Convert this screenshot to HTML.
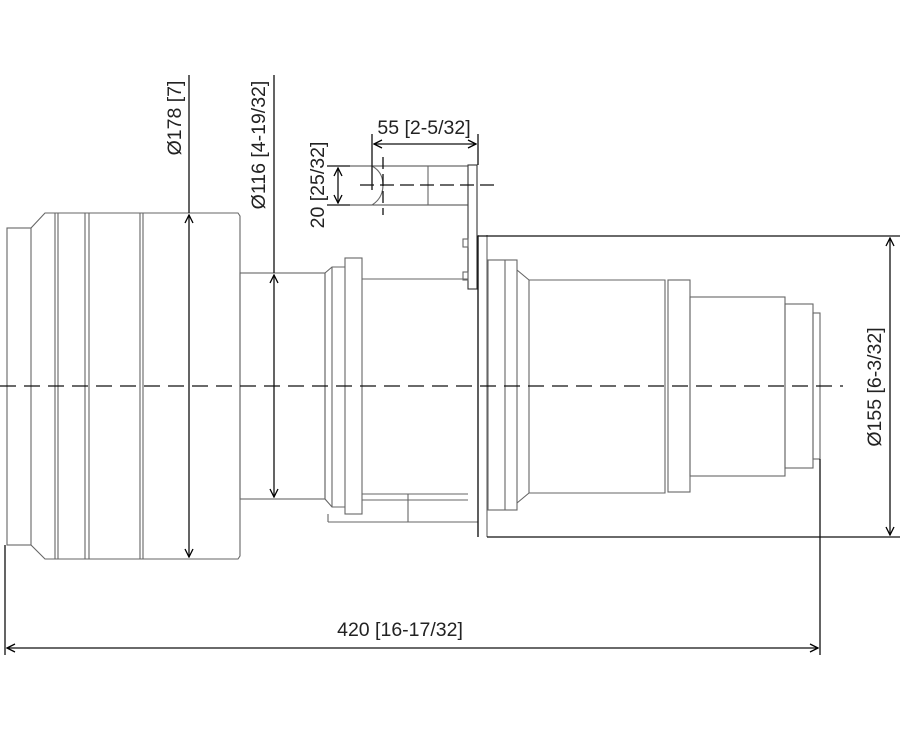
<!DOCTYPE html>
<html><head><style>html,body{margin:0;padding:0;background:#fff}svg{display:block}</style></head><body>
<svg width="900" height="731" viewBox="0 0 900 731" xmlns="http://www.w3.org/2000/svg" font-family="Liberation Sans, sans-serif" font-size="19.5" fill="none">
<defs>
<marker id="a" markerWidth="10" markerHeight="10" refX="9" refY="5" orient="auto-start-reverse" markerUnits="userSpaceOnUse"><path d="M1,1 L9,5 L1,9" stroke="#000" stroke-width="1.3" fill="none"/></marker>
</defs>
<g stroke="#666" stroke-width="1.1">
<rect x="7" y="228" width="24" height="317"/>
<path d="M31,228 L45,213 L238,213 L240,216 L240,556 L238,559 L45,559 L31,545"/>
<line x1="55" y1="213" x2="55" y2="559"/><line x1="58" y1="213" x2="58" y2="559"/>
<line x1="85" y1="213" x2="85" y2="559"/><line x1="89" y1="213" x2="89" y2="559"/>
<line x1="140" y1="213" x2="140" y2="559"/><line x1="143" y1="213" x2="143" y2="559"/>
<rect x="240" y="273" width="85" height="226"/>
<path d="M325,273 L332,267 L345,267 M325,499 L332,507 L345,507"/>
<line x1="325" y1="273" x2="325" y2="499"/><line x1="332" y1="267" x2="332" y2="507"/>
<rect x="345" y="258" width="17" height="256"/>
<line x1="362" y1="279" x2="468" y2="279"/>
<line x1="362" y1="494" x2="468" y2="494"/><line x1="362" y1="500" x2="468" y2="500"/>
<line x1="328" y1="514" x2="328" y2="522"/><line x1="328" y1="522" x2="478" y2="522"/>
<line x1="408" y1="494" x2="408" y2="522"/>
<rect x="468" y="165" width="9" height="124" stroke="#333"/>
<rect x="463" y="239" width="5" height="8"/><rect x="463" y="272" width="5" height="8"/>
<line x1="327" y1="166" x2="468" y2="166" stroke="#444"/>
<line x1="327" y1="205" x2="468" y2="205" stroke="#444"/>
<path d="M372,166 Q383,172 383,185 Q383,198 372,205"/>
<line x1="428" y1="166" x2="428" y2="205"/>
<line x1="478" y1="235" x2="478" y2="537"/><line x1="487" y1="235" x2="487" y2="537"/>
<rect x="488" y="260" width="29" height="250"/>
<line x1="505" y1="260" x2="505" y2="510"/>
<path d="M517,270 L529,280 L665,280 L665,493 L529,493 L517,503"/>
<line x1="529" y1="280" x2="529" y2="493"/>
<rect x="668" y="280" width="22" height="212"/>
<rect x="690" y="297" width="95" height="179"/>
<rect x="785" y="304" width="28" height="164"/>
<rect x="813" y="313" width="7" height="146"/>
</g>
<g stroke="#111" stroke-width="1.3">
<line x1="478" y1="236" x2="900" y2="236"/><line x1="487" y1="537" x2="900" y2="537"/>
<line x1="478" y1="236" x2="478" y2="537"/>
<line x1="5" y1="545" x2="5" y2="655"/>
<line x1="820" y1="459" x2="820" y2="655"/>
<line x1="7" y1="648" x2="818" y2="648" marker-start="url(#a)" marker-end="url(#a)"/>
<line x1="890" y1="238" x2="890" y2="535" marker-start="url(#a)" marker-end="url(#a)"/>
<line x1="189" y1="75" x2="189" y2="213"/>
<line x1="189" y1="215" x2="189" y2="557" marker-start="url(#a)" marker-end="url(#a)"/>
<line x1="274" y1="75" x2="274" y2="273"/>
<line x1="274" y1="275" x2="274" y2="497" marker-start="url(#a)" marker-end="url(#a)"/>
<line x1="372" y1="134" x2="372" y2="190"/><line x1="478" y1="134" x2="478" y2="165"/>
<line x1="374" y1="144" x2="476" y2="144" marker-start="url(#a)" marker-end="url(#a)"/>
<line x1="327" y1="166" x2="350" y2="166"/><line x1="327" y1="205" x2="350" y2="205"/>
<line x1="338" y1="168" x2="338" y2="203" marker-start="url(#a)" marker-end="url(#a)"/>
<line x1="0" y1="386" x2="843" y2="386" stroke-dasharray="16,8"/>
<line x1="360" y1="185" x2="498" y2="185" stroke-dasharray="14,6"/>
<line x1="383" y1="157" x2="383" y2="215" stroke-dasharray="12,5"/>
</g>
<g fill="#222" stroke="none">
<text x="400" y="636" text-anchor="middle">420 [16-17/32]</text>
<text x="424" y="134" text-anchor="middle">55 [2-5/32]</text>
<text transform="translate(881,387) rotate(-90)" text-anchor="middle">Ø155 [6-3/32]</text>
<text transform="translate(181,118) rotate(-90)" text-anchor="middle">Ø178 [7]</text>
<text transform="translate(265,145) rotate(-90)" text-anchor="middle">Ø116 [4-19/32]</text>
<text transform="translate(324,185) rotate(-90)" text-anchor="middle">20 [25/32]</text>
</g>
</svg>
</body></html>
